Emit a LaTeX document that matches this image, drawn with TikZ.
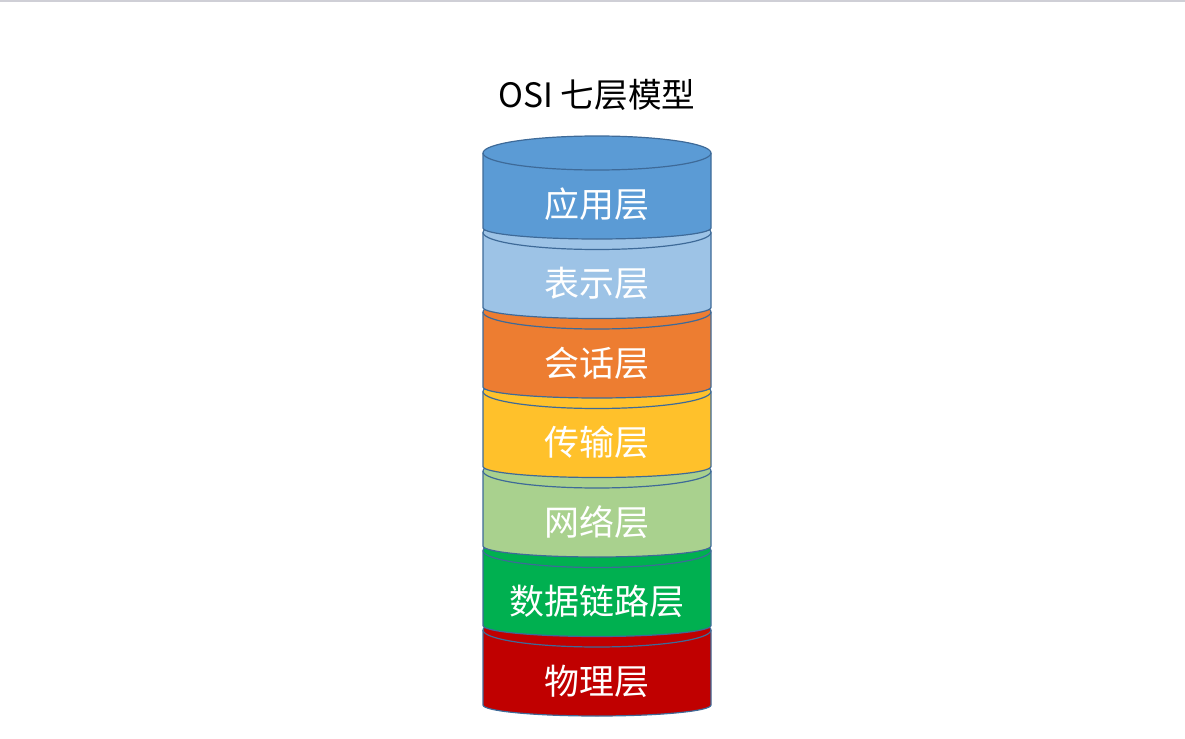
\documentclass[tikz,border=0pt]{standalone}
\usepackage{fontspec}
\setmainfont{Noto Sans CJK SC}
\usepackage{xcolor}
\usepackage{tikz}
\usetikzlibrary{positioning}

\definecolor{edgeblue}{HTML}{3E6A98}
\definecolor{appblue}{HTML}{5B9BD5}
\definecolor{preblue}{HTML}{9DC3E6}
\definecolor{sesorange}{HTML}{ED7D31}
\definecolor{transyellow}{HTML}{FFC12B}
\definecolor{netgreen}{HTML}{A9D18E}
\definecolor{linkgreen}{HTML}{00B050}
\definecolor{phyred}{HTML}{C00000}
\definecolor{rulegray}{HTML}{CFCFD6}

\begin{document}
\begin{tikzpicture}[
    x=0.5pt, y=0.5pt,
    layer/.style={draw=edgeblue, line width=0.6pt},
    label/.style={text=white, font=\fontsize{17.5}{20}\selectfont},
    title/.style={text=black, font=\fontsize{16.8}{19}\selectfont}
  ]
  \useasboundingbox (0,0) rectangle (1185,-739);
  \draw[rulegray, line width=1pt] (0,-1) -- (1185,-1);

  \node[title] (title) at (597,-95) {OSI 七层模型};

  % layers, drawn from the bottom up
  \foreach \i/\name/\fillc/\txt in {6/phy/phyred/物理层, 5/dlink/linkgreen/数据链路层,
      4/net/netgreen/网络层, 3/trans/transyellow/传输层, 2/ses/sesorange/会话层,
      1/pre/preblue/表示层, 0/app/appblue/应用层} {
    \pgfmathsetmacro\yt{-153-79.5*\i}
    \draw[layer, fill=\fillc] (483,\yt) -- ++(0,-75)
      arc[start angle=180, end angle=360, x radius=114, y radius=11] -- ++(0,75)
      arc[start angle=0, end angle=180, x radius=114, y radius=17] -- cycle;
    \draw[layer] (483,\yt) arc[start angle=180, end angle=360, x radius=114, y radius=17];
    \node[label] (\name) at (597,\yt-51) {\txt};
  }
\end{tikzpicture}
\end{document}
